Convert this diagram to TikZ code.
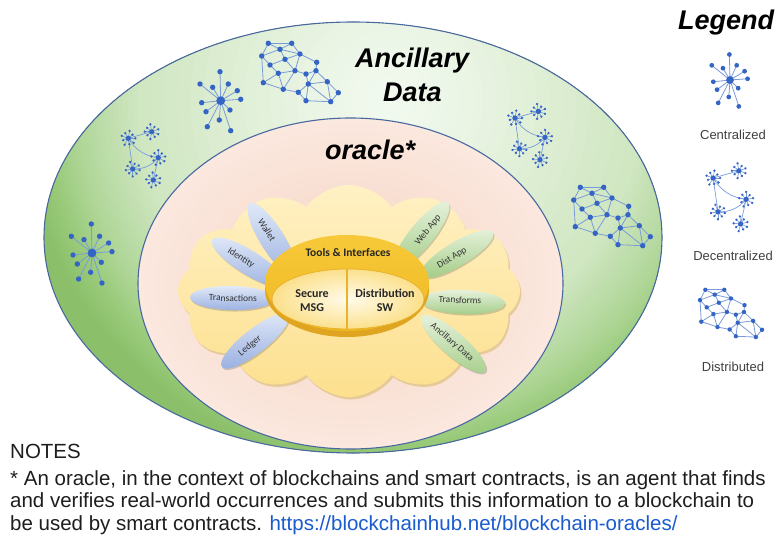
\documentclass[tikz,border=0pt]{standalone}
\usepackage{fontspec}
\setmainfont{Liberation Sans}
\newfontfamily\carl{Carlito}
\usetikzlibrary{shapes.symbols,shapes.geometric,shadows}

\definecolor{ringline}{HTML}{4A68A0}
\definecolor{ringA}{HTML}{F3FAF0}
\definecolor{ringB}{HTML}{E9F4E3}
\definecolor{ringC}{HTML}{D0E7C2}
\definecolor{ringD}{HTML}{B2D79B}
\definecolor{ringE}{HTML}{99CA7A}
\definecolor{ringF}{HTML}{8BBF69}
\definecolor{pinkIn}{HTML}{F7D4C3}
\definecolor{pinkOut}{HTML}{FBE8DF}
\definecolor{cloudTop}{HTML}{FFF1C4}
\definecolor{cloudBot}{HTML}{FDE08F}
\definecolor{cloudShadow}{HTML}{D9BC70}
\definecolor{goldRim}{HTML}{DFA520}
\definecolor{goldTop}{HTML}{F7C93A}
\definecolor{goldBot}{HTML}{F0B820}
\definecolor{goldIn}{HTML}{FFFBEA}
\definecolor{goldOut}{HTML}{FBE08C}
\definecolor{goldLine}{HTML}{E8B22A}
\definecolor{bpTop}{HTML}{E2EAF8}
\definecolor{bpBot}{HTML}{9CB2E1}
\definecolor{gpTop}{HTML}{E8F3DF}
\definecolor{gpBot}{HTML}{A6CE8A}
\definecolor{netnode}{HTML}{3464C4}
\definecolor{netedge}{HTML}{7A9BDA}
\definecolor{linkblue}{HTML}{1A5BD0}
\definecolor{txt}{HTML}{1E1E1E}

\tikzset{
  nedge/.style={draw=netedge, line width=.8pt},
  nnode/.style={fill=netnode},
  centr/.pic={
    \foreach \x/\y in {-0.7/-29,-20.7/-16.7,-8/-13.4,7.6/-16.7,16.6/-10,20/-1.4,-19/2,-14.7/11,9.3/9.3,-1.4/19.3,-13.4/26,10/30}
      {\draw[nedge] (0,0) -- (\x,\y); \fill[nnode] (\x,\y) circle (2.7pt);}
    \fill[nnode] (0,0) circle (4.4pt);
  },
  clus/.pic={
    \foreach \a/\r in {0/7,40/5.5,80/7.5,120/6,160/7,200/5.5,240/7.5,280/6,320/7}
      {\draw[draw=netedge, line width=.6pt] (0,0) -- (\a:\r pt); \fill[nnode] (\a:\r pt) circle (1.3pt);}
    \fill[nnode] (0,0) circle (2.6pt);
  },
  decentr/.pic={
    \coordinate (-c1) at (18.3,23.3);
    \coordinate (-c2) at (41.7,16.7);
    \coordinate (-c3) at (48.3,42.7);
    \coordinate (-c4) at (22.7,54);
    \coordinate (-c5) at (43.3,65);
    \draw[nedge, line width=.7pt] (-c1) -- (-c2);
    \draw[nedge, line width=.7pt] (-c1) to[bend right=25] (-c3);
    \draw[nedge, line width=.7pt] (-c3) to[bend left=25] (-c4);
    \draw[nedge, line width=.7pt] (-c1) -- (-c4);
    \draw[nedge, line width=.7pt] (-c3) -- (-c5);
    \pic at (-c1) {clus};
    \pic[rotate=20] at (-c2) {clus};
    \pic[rotate=10] at (-c3) {clus};
    \pic[rotate=30] at (-c4) {clus};
    \pic[rotate=15] at (-c5) {clus};
  },
  distr/.pic={
    \foreach \i/\x/\y in {1/18.3/13.3,2/41.7/13.3,3/30/19.3,4/11.7/26,5/50/24,6/35/29.3,7/20/35,8/66.7/32.3,9/28.3/43.3,10/45/40.7,11/56/44,12/66/40.7,13/13.3/52.7,14/33.3/59.3,15/58.3/54,16/77.3/51.7,17/48.3/62.3,18/88.3/62.7,19/56/70.7,20/80.7/71.7}
      {\coordinate (-n\i) at (\x,\y);}
    \foreach \a/\b in {1/2,1/3,2/3,1/4,3/4,2/5,3/5,3/6,5/6,4/7,6/7,5/8,5/10,6/10,7/9,9/10,8/12,10/11,11/12,4/13,9/13,9/14,13/14,10/14,14/17,11/15,12/15,12/16,15/16,15/17,17/19,15/19,16/18,16/20,18/20,19/20,15/20}
      {\draw[nedge] (-n\a) -- (-n\b);}
    \foreach \i in {1,...,20} {\fill[nnode] (-n\i) circle (2.7pt);}
  },
  titletxt/.style={font=\fontsize{27}{30}\selectfont\bfseries\itshape, text=black, inner sep=0pt, anchor=base west},
  leglab/.style={font=\fontsize{13}{15}\selectfont, text=txt!85, inner sep=0pt},
  notetxt/.style={font=\fontsize{20.5}{23}\selectfont, text=txt, inner sep=0pt, anchor=base west},
  petal/.style={ellipse, minimum width=84pt, minimum height=24pt, inner sep=0pt,
    drop shadow={shadow xshift=1pt, shadow yshift=-1.5pt, opacity=.3, fill=black!60}},
  bpetal/.style={petal, top color=bpTop, bottom color=bpBot},
  gpetal/.style={petal, top color=gpTop, bottom color=gpBot},
  ptxt/.style={font=\carl\fontsize{9.5}{10}\selectfont, text=black!80, inner sep=0pt},
  gtxt/.style={font=\carl\bfseries\fontsize{12}{14.5}\selectfont, text=black!85, inner sep=0pt, align=center},
}

\begin{document}
\begin{tikzpicture}[x=1pt,y=-1pt]
\useasboundingbox (0,0) rectangle (782,535);
\fill[white] (0,0) rectangle (782,535);

% outer ring (ancillary data): stepped radial gradient
\begin{scope}
  \clip (353,237.5) ellipse [x radius=309pt, y radius=215.5pt];
  \fill[ringF] (353,237.5) ellipse [x radius=312pt, y radius=218pt];
  \foreach \dA/\dB/\cA/\cB in {345/370/ringE/ringF, 310/345/ringD/ringE, 253/310/ringC/ringD, 93/253/ringB/ringC, 0/93/ringA/ringB} {
    \foreach \k in {12,11,...,1} {
      \pgfmathsetmacro\rr{\dA+\k/12*(\dB-\dA)}
      \pgfmathtruncatemacro\pc{\k/12*100}
      \fill[\cB!\pc!\cA] (390,100) circle (\rr pt);
    }
  }
\end{scope}
\draw[ringline, line width=1.1pt] (353,237.5) ellipse [x radius=309pt, y radius=215.5pt];
% oracle ellipse
\path[inner color=pinkIn, outer color=pinkOut, draw=ringline, line width=1.1pt] (350.5,283.5) ellipse [x radius=212.5pt, y radius=165.5pt];

% networks in ring
\pic (na) at (250,30) {distr};
\pic (nb) at (220.7,100.7) {centr};
\pic (nc) at (110,115) {decentr};
\pic (nd) at (92,253) {centr};
\pic (ne) at (496.7,94.7) {decentr};
\pic (nf) at (562,174) {distr};

% titles
\node[titletxt] (anc) at (355,68) {Ancillary};
\node[titletxt] (dat) at (383,101) {Data};
\node[titletxt] (ora) at (325,159) {oracle*};

% cloud
\node[cloud, cloud puffs=12, cloud puff arc=110, aspect=1.6, minimum width=342pt, minimum height=212pt, inner sep=0pt,
      top color=cloudTop, bottom color=cloudBot,
      drop shadow={shadow xshift=1.5pt, shadow yshift=-2.5pt, opacity=.6, fill=cloudShadow}] (cld) at (349,291) {};

% petals
\node[bpetal, rotate=-58] (wal) at (272,239) {};
\node[bpetal, rotate=-32] (ide) at (248,262) {};
\node[bpetal, rotate=-1] (tra) at (232,298) {};
\node[bpetal, rotate=38] (led) at (255,341) {};
\node[gpetal, rotate=51] (web) at (421.5,235) {};
\node[gpetal, rotate=31] (dis) at (457,254) {};
\node[gpetal, rotate=-2] (trf) at (463,302) {};
\node[gpetal, rotate=-41] (anx) at (453.5,344) {};
\node[ptxt, rotate=-58] (walt) at (267,230) {Wallet};
\node[ptxt, rotate=-32] (idet) at (241,258) {Identity};
\node[ptxt, rotate=-1] (trat) at (233,298) {Transactions};
\node[ptxt, rotate=38] (ledt) at (250,346) {Ledger};
\node[ptxt, rotate=51] (webt) at (428,230) {Web App};
\node[ptxt, rotate=31] (dist) at (452,258) {Dist App};
\node[ptxt, rotate=-2] (trft) at (460,300) {Transforms};
\node[ptxt, rotate=-41] (anxt) at (452,342) {Ancillary Data};

% gold hub
\fill[goldRim] (347,290) ellipse [x radius=82pt, y radius=47pt];
\path[top color=goldTop, bottom color=goldBot] (347,283) ellipse [x radius=82pt, y radius=48pt];
\path[inner color=goldIn, outer color=goldOut, draw=goldLine, line width=.8pt] (348,299) ellipse [x radius=76pt, y radius=30pt];
\coordinate (dvt) at (347,269);
\coordinate (dvb) at (347,329);
\draw[goldLine, line width=2.4pt] (dvt) -- (dvb);
\node[gtxt, font=\carl\bfseries\fontsize{11.5}{13}\selectfont] (tools) at (348,253) {Tools \& Interfaces};
\node[gtxt] (sec) at (312,300.5) {Secure\\MSG};
\node[gtxt] (dsw) at (385,300.5) {Distribution\\SW};

% legend
\node[titletxt] (leg) at (678,30) {Legend};
\pic[scale=.88] (la) at (730,80) {centr};
\node[leglab] (lca) at (733,135) {Centralized};
\pic[scale=1.1] (lb) at (693,152.4) {decentr};
\node[leglab] (lcb) at (733,256) {Decentralized};
\pic[scale=.81] (lc) at (690.5,279) {distr};
\node[leglab] (lcc) at (733,367) {Distributed};

% notes
\node[notetxt] (n0) at (10,458) {NOTES};
\node[notetxt] (n1) at (10,485) {* An oracle, in the context of blockchains and smart contracts, is an agent that finds};
\node[notetxt] (n2) at (10,507.5) {and verifies real-world occurrences and submits this information to a blockchain to};
\node[notetxt] (n3) at (10,530) {be used by smart contracts. \textcolor{linkblue}{\underline{https://blockchainhub.net/blockchain-oracles/}}};
\end{tikzpicture}
\end{document}
